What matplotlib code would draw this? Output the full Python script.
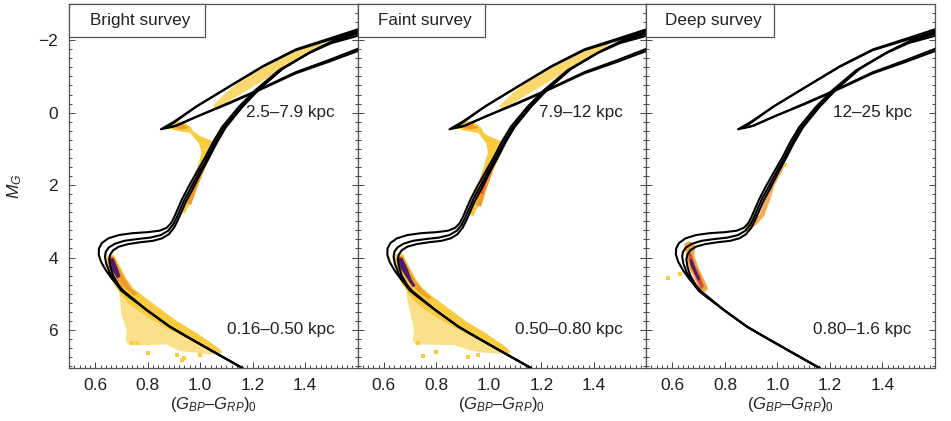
import numpy as np
import matplotlib
matplotlib.use("Agg")
import matplotlib.pyplot as plt
from matplotlib.patches import Rectangle
from matplotlib.ticker import MultipleLocator

plt.rcParams['font.family'] = ['Liberation Sans', 'DejaVu Sans']
plt.rcParams['mathtext.fontset'] = 'custom'
plt.rcParams['mathtext.rm'] = 'Liberation Sans'
plt.rcParams['mathtext.it'] = 'Liberation Sans:italic'

# panels
titles = ["Bright survey", "Faint survey", "Deep survey"]
box_widths = [0.472, 0.443, 0.443]
far_labels = ["2.5\u20137.9 kpc", "7.9\u201312 kpc", "12\u201325 kpc"]
near_labels = ["0.16\u20130.50 kpc", "0.50\u20130.80 kpc", "0.80\u20131.6 kpc"]

# isochrones (colour, M_G)
iso_a_x = [1.16, 1.05, 0.96, 0.884, 0.796, 0.745, 0.70, 0.665, 0.64, 0.622, 0.613, 0.614, 0.625, 0.65, 0.69,
           0.74, 0.80, 0.845, 0.872, 0.888, 0.90, 0.912, 0.93, 0.955, 0.99, 1.02, 1.05, 1.084, 1.147, 1.21,
           1.30, 1.41, 1.50, 1.60]
iso_a_y = [7.05, 6.60, 6.23, 5.91, 5.45, 5.15, 4.88, 4.60, 4.35, 4.12, 3.92, 3.75, 3.60, 3.47, 3.38,
           3.33, 3.30, 3.26, 3.18, 3.06, 2.90, 2.70, 2.40, 2.05, 1.60, 1.22, 0.80, 0.39, -0.16, -0.62,
           -1.17, -1.63, -1.92, -2.12]
iso_b_x = [1.16, 1.05, 0.96, 0.884, 0.796, 0.735, 0.70, 0.675, 0.655, 0.642, 0.637, 0.64, 0.652, 0.675, 0.71,
           0.76, 0.81, 0.85, 0.878, 0.896, 0.91, 0.922, 0.94, 0.966, 0.998, 1.028, 1.058, 1.092, 1.155, 1.218,
           1.308, 1.418, 1.505, 1.60]
iso_b_y = [7.05, 6.60, 6.23, 5.91, 5.45, 5.12, 4.92, 4.68, 4.42, 4.18, 3.98, 3.84, 3.72, 3.62, 3.54,
           3.49, 3.45, 3.38, 3.26, 3.10, 2.90, 2.70, 2.40, 2.05, 1.62, 1.23, 0.81, 0.39, -0.16, -0.63,
           -1.19, -1.66, -1.96, -2.18]
iso_c_x = [1.16, 1.05, 0.96, 0.884, 0.796, 0.74, 0.71, 0.688, 0.668, 0.657, 0.653, 0.657, 0.668, 0.69, 0.725,
           0.77, 0.82, 0.855, 0.88, 0.90, 0.914, 0.928, 0.946, 0.972, 1.004, 1.034, 1.064, 1.098, 1.161, 1.224,
           1.314, 1.424, 1.51, 1.60]
iso_c_y = [7.05, 6.60, 6.23, 5.91, 5.45, 5.12, 4.95, 4.75, 4.50, 4.25, 4.05, 3.92, 3.80, 3.70, 3.63,
           3.58, 3.54, 3.47, 3.36, 3.18, 2.98, 2.75, 2.45, 2.10, 1.64, 1.24, 0.82, 0.40, -0.16, -0.64,
           -1.21, -1.69, -2.0, -2.22]

# horizontal branch / AGB loop
loop_a_x = [1.60, 1.488, 1.362, 1.236, 1.109, 0.983, 0.90, 0.85, 0.90, 0.983, 1.109, 1.21, 1.362, 1.488, 1.60]
loop_a_y = [-2.25, -2.00, -1.72, -1.26, -0.71, -0.16, 0.25, 0.46, 0.38, 0.12, -0.25, -0.57, -1.08, -1.40, -1.70]
loop_b_x = [1.60, 1.49, 1.365, 1.24, 1.112, 0.986, 0.905, 0.87, 0.91, 0.99, 1.112, 1.213, 1.365, 1.49, 1.60]
loop_b_y = [-2.30, -2.04, -1.75, -1.29, -0.73, -0.17, 0.25, 0.42, 0.36, 0.10, -0.28, -0.60, -1.12, -1.45, -1.76]

# star density regions: (colour, M_G) outlines, one list per region
bright_sparse = [(0.69, 4.95), (0.72, 5.0), (0.80, 5.40), (0.90, 5.85), (0.98, 6.15), (1.05, 6.45), (1.07, 6.62),
                 (1.04, 6.68), (0.97, 6.62), (0.92, 6.58), (0.87, 6.40), (0.80, 6.42), (0.73, 6.42),
                 (0.715, 6.30), (0.72, 6.0), (0.70, 5.6), (0.695, 5.2)]
bright_band = [(0.645, 3.95), (0.672, 3.93), (0.695, 4.25), (0.72, 4.6), (0.745, 4.85), (0.78, 5.05),
               (0.835, 5.35), (0.91, 5.75), (0.99, 6.1), (1.06, 6.45), (1.085, 6.6), (1.065, 6.68),
               (1.03, 6.55), (0.95, 6.25), (0.87, 5.95), (0.79, 5.6), (0.73, 5.3), (0.70, 5.05),
               (0.672, 4.75), (0.655, 4.45), (0.645, 4.2)]
bright_core = [(0.650, 3.98), (0.670, 3.96), (0.692, 4.3), (0.714, 4.6), (0.737, 4.85), (0.762, 5.0),
               (0.75, 5.06), (0.713, 4.86), (0.683, 4.62), (0.660, 4.36), (0.650, 4.15)]
bright_peak = [(0.653, 4.03), (0.669, 4.01), (0.686, 4.3), (0.696, 4.52), (0.684, 4.58), (0.666, 4.37), (0.655, 4.2)]
bright_clump = [(0.885, 0.33), (0.905, 0.22), (0.94, 0.28), (0.965, 0.40), (0.975, 0.55), (0.95, 0.55),
                (0.91, 0.50), (0.885, 0.45)]
bright_clump_core = [(0.90, 0.32), (0.93, 0.30), (0.955, 0.42), (0.93, 0.47), (0.905, 0.42)]
bright_rgb = [(0.96, 0.55), (0.995, 0.85), (1.005, 1.1), (0.99, 1.5), (0.968, 1.9), (0.948, 2.3), (0.925, 2.7),
              (0.94, 2.8), (0.962, 2.5), (0.99, 2.0), (1.015, 1.6), (1.04, 1.2), (1.06, 0.85), (1.045, 0.78),
              (1.0, 0.65), (0.975, 0.52)]
bright_rgb_core = [(0.95, 2.5), (0.972, 2.0), (0.997, 1.6), (1.017, 1.3), (1.032, 1.2), (1.012, 1.65),
                   (0.99, 2.05), (0.965, 2.55)]
bright_agb = [(1.06, -0.08), (1.11, -0.32), (1.18, -0.62), (1.26, -0.98), (1.34, -1.32), (1.42, -1.62),
              (1.47, -1.88), (1.44, -1.94), (1.37, -1.74), (1.29, -1.45), (1.21, -1.12), (1.14, -0.80),
              (1.09, -0.50), (1.05, -0.20)]
bright_dots_x = [0.80, 0.93, 0.94, 0.91, 1.0, 0.76, 0.74]
bright_dots_y = [6.64, 6.82, 6.78, 6.70, 6.70, 6.36, 6.36]

faint_sparse = [(0.685, 4.95), (0.72, 5.0), (0.80, 5.40), (0.90, 5.85), (0.98, 6.15), (1.05, 6.45), (1.075, 6.6),
                (1.04, 6.66), (0.97, 6.62), (0.92, 6.55), (0.87, 6.42), (0.72, 6.40), (0.71, 6.3),
                (0.715, 6.0), (0.70, 5.5), (0.69, 5.2)]
faint_band = [(0.643, 3.9), (0.672, 3.9), (0.697, 4.25), (0.722, 4.6), (0.748, 4.85), (0.785, 5.07),
              (0.84, 5.37), (0.915, 5.77), (0.995, 6.12), (1.065, 6.47), (1.085, 6.62), (1.06, 6.68),
              (1.025, 6.55), (0.945, 6.23), (0.865, 5.92), (0.785, 5.58), (0.725, 5.27), (0.695, 5.02),
              (0.668, 4.72), (0.652, 4.42), (0.643, 4.15)]
faint_core = [(0.65, 3.98), (0.67, 3.95), (0.695, 4.3), (0.72, 4.65), (0.75, 4.92), (0.78, 5.1),
              (0.77, 5.15), (0.725, 4.9), (0.69, 4.62), (0.665, 4.35), (0.652, 4.15)]
faint_peak = [(0.655, 4.02), (0.67, 4.0), (0.69, 4.3), (0.705, 4.6), (0.72, 4.78), (0.71, 4.82),
              (0.69, 4.6), (0.668, 4.35), (0.657, 4.2)]
faint_clump = [(0.88, 0.33), (0.90, 0.22), (0.94, 0.26), (0.97, 0.40), (0.98, 0.55), (0.955, 0.56),
               (0.91, 0.50), (0.882, 0.45)]
faint_clump_core = [(0.895, 0.32), (0.93, 0.29), (0.96, 0.42), (0.93, 0.47), (0.9, 0.42)]
faint_rgb = [(0.96, 0.56), (0.99, 0.85), (0.997, 1.1), (0.98, 1.5), (0.962, 1.9), (0.942, 2.3), (0.92, 2.75),
             (0.94, 2.88), (0.965, 2.5), (0.992, 2.0), (1.017, 1.6), (1.042, 1.2), (1.062, 0.85), (1.045, 0.78),
             (1.0, 0.65), (0.975, 0.53)]
faint_rgb_core = [(0.95, 2.55), (0.967, 2.1), (0.987, 1.7), (1.007, 1.35), (1.027, 1.2), (1.012, 1.7),
                  (0.992, 2.1), (0.97, 2.6)]
faint_rgb_peak = [(0.965, 2.2), (0.98, 1.8), (0.995, 1.55), (1.003, 1.6), (0.99, 1.95), (0.975, 2.25)]
faint_agb = [(1.05, -0.08), (1.11, -0.34), (1.18, -0.64), (1.26, -0.99), (1.34, -1.34), (1.42, -1.64),
             (1.46, -1.88), (1.43, -1.93), (1.36, -1.73), (1.28, -1.42), (1.20, -1.08), (1.13, -0.76),
             (1.08, -0.47), (1.04, -0.18)]
faint_dots_x = [0.75, 0.80, 0.92, 0.96, 0.73]
faint_dots_y = [6.72, 6.60, 6.75, 6.70, 6.37]

deep_band = [(0.645, 3.62), (0.665, 3.55), (0.685, 3.65), (0.683, 3.95), (0.70, 4.3), (0.72, 4.6),
             (0.735, 4.85), (0.725, 4.95), (0.705, 4.9), (0.685, 4.6), (0.665, 4.3), (0.655, 4.0), (0.648, 3.8)]
deep_core = [(0.66, 3.85), (0.672, 3.9), (0.685, 4.2), (0.705, 4.5), (0.72, 4.8), (0.71, 4.88),
             (0.692, 4.6), (0.672, 4.3), (0.662, 4.05)]
deep_peak = [(0.665, 4.05), (0.675, 4.05), (0.69, 4.35), (0.705, 4.6), (0.698, 4.65), (0.682, 4.4), (0.668, 4.2)]
deep_rgb = [(0.875, 3.2), (0.895, 3.0), (0.93, 2.85), (0.945, 2.55), (0.96, 2.2), (0.985, 1.8), (1.01, 1.5),
            (1.03, 1.4), (1.02, 1.6), (0.99, 2.0), (0.97, 2.45), (0.95, 2.85), (0.92, 3.1), (0.885, 3.3)]
deep_dots_x = [0.583, 0.63, 1.02, 1.03]
deep_dots_y = [4.57, 4.45, 1.38, 1.45]

yellow = '#F8CC3E'
orange = '#F09A2A'
red = '#D2503A'
purple = '#4C1D6B'

panel_regions = [
    [(bright_sparse, yellow, 0.6), (bright_band, yellow, 1), (bright_core, orange, 1), (bright_peak, purple, 1),
     (bright_clump, yellow, 1), (bright_clump_core, orange, 1), (bright_rgb, yellow, 1),
     (bright_rgb_core, orange, 1), (bright_agb, yellow, 0.75)],
    [(faint_sparse, yellow, 0.6), (faint_band, yellow, 1), (faint_core, orange, 1), (faint_peak, purple, 1),
     (faint_clump, yellow, 1), (faint_clump_core, orange, 1), (faint_rgb, yellow, 1),
     (faint_rgb_core, orange, 1), (faint_rgb_peak, red, 1), (faint_agb, yellow, 0.75)],
    [(deep_band, orange, 0.9), (deep_core, red, 1), (deep_peak, purple, 1), (deep_rgb, orange, 0.8)],
]
panel_dots = [(bright_dots_x, bright_dots_y), (faint_dots_x, faint_dots_y), (deep_dots_x, deep_dots_y)]

fig, axes = plt.subplots(1, 3, figsize=(9.51, 4.21), dpi=100, sharey=True)
fig.subplots_adjust(left=0.0726, right=0.983, bottom=0.126, top=0.9905, wspace=0)

for i, ax in enumerate(axes):
    for poly, col, a in panel_regions[i]:
        px = [p[0] for p in poly]
        py = [p[1] for p in poly]
        ax.fill(px, py, color=col, alpha=a, lw=0, zorder=1)
    ax.scatter(panel_dots[i][0], panel_dots[i][1], s=5, marker='s', color=yellow, lw=0, zorder=1)

    for xs, ys in [(iso_a_x, iso_a_y), (iso_b_x, iso_b_y), (iso_c_x, iso_c_y),
                   (loop_a_x, loop_a_y), (loop_b_x, loop_b_y)]:
        ax.plot(xs, ys, color='black', lw=1.5, zorder=3, solid_joinstyle='round')

    ax.set_xlim(0.5, 1.6)
    ax.set_ylim(7.05, -3.0)
    ax.set_xticks([0.6, 0.8, 1.0, 1.2, 1.4])
    ax.set_xticklabels(["0.6", "0.8", "1.0", "1.2", "1.4"])
    ax.xaxis.set_minor_locator(MultipleLocator(0.02))
    ax.yaxis.set_major_locator(MultipleLocator(2))
    ax.yaxis.set_minor_locator(MultipleLocator(0.25))
    ax.tick_params(which='both', direction='in', right=True, top=False, colors='#444444',
                   labelcolor='#222222', labelsize=12.5, width=0.7)
    ax.tick_params(which='major', length=4)
    ax.tick_params(which='minor', length=2.2)
    ax.tick_params(axis='x', pad=7)
    for s in ax.spines.values():
        s.set_color('#555555')
        s.set_linewidth(0.9)
    ax.set_xlabel("$(G_{BP}$\u2013$G_{RP})_0$", fontsize=12, color='#222222', labelpad=2)

    ax.add_patch(Rectangle((0, 1 - 0.091), box_widths[i], 0.091, transform=ax.transAxes,
                           facecolor='white', edgecolor='#555555', lw=0.9, zorder=5, clip_on=False))
    ax.text(box_widths[i] / 2 + 0.01, 1 - 0.045, titles[i], transform=ax.transAxes, ha='center', va='center',
            fontsize=12.3, color='#222222', zorder=6)
    ax.text(1.512, 0.0, far_labels[i], ha='right', va='center', fontsize=12.3, color='#222222', zorder=4)
    ax.text(1.512, 6.0, near_labels[i], ha='right', va='center', fontsize=12.3, color='#222222', zorder=4)

axes[0].set_ylabel("$M_G$", fontsize=12.5, color='#222222', labelpad=10)
axes[0].tick_params(axis='y', pad=8)

fig.savefig("out.png", dpi=100)
